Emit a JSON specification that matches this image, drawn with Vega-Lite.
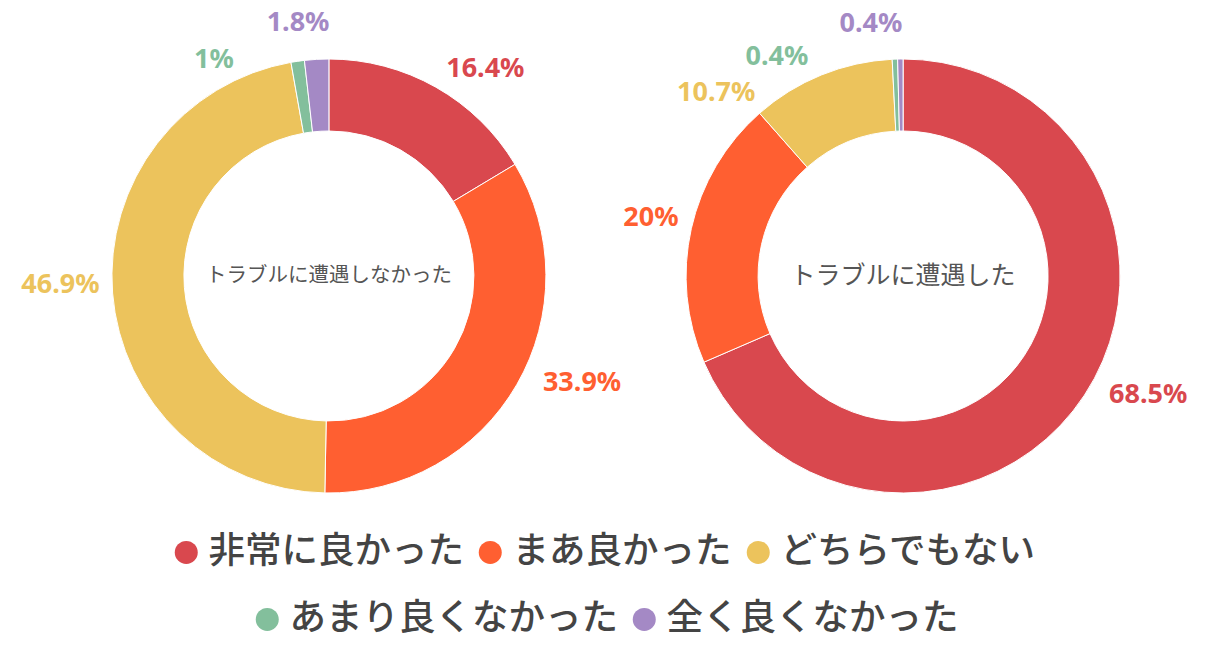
{
  "$schema": "https://vega.github.io/schema/vega-lite/v6.json",
  "width": 1200,
  "height": 552,
  "autosize": {"type": "none"},
  "padding": {"left": 16, "right": 0, "top": 0, "bottom": 103},
  "background": "white",
  "config": {
    "view": {"stroke": null},
    "font": "Noto Sans CJK JP",
    "text": {"font": "Noto Sans", "fontSize": 27, "fontWeight": "bold", "baseline": "middle"},
    "legend": {
      "orient": "none",
      "direction": "horizontal",
      "title": null,
      "symbolType": "circle",
      "symbolSize": 529,
      "symbolStrokeWidth": 0,
      "symbolOpacity": 1,
      "labelFontSize": 36.5,
      "labelFont": "Noto Sans CJK JP",
      "labelFontWeight": 500,
      "labelColor": "#444444",
      "labelOffset": 4,
      "columnPadding": 8,
      "labelLimit": 400
    }
  },
  "data": {
    "values": [
      {"chart": "left", "id": "L1", "cat": "非常に良かった", "order": 1, "value": 16.4, "label": "16.4%"},
      {"chart": "left", "id": "L2", "cat": "まあ良かった", "order": 2, "value": 33.9, "label": "33.9%"},
      {"chart": "left", "id": "L3", "cat": "どちらでもない", "order": 3, "value": 46.9, "label": "46.9%"},
      {"chart": "left", "id": "L4", "cat": "あまり良くなかった", "order": 4, "value": 1.0, "label": "1%"},
      {"chart": "left", "id": "L5", "cat": "全く良くなかった", "order": 5, "value": 1.8, "label": "1.8%"},
      {"chart": "right", "id": "R1", "cat": "非常に良かった", "order": 1, "value": 68.5, "label": "68.5%"},
      {"chart": "right", "id": "R2", "cat": "まあ良かった", "order": 2, "value": 20.0, "label": "20%"},
      {"chart": "right", "id": "R3", "cat": "どちらでもない", "order": 3, "value": 10.7, "label": "10.7%"},
      {"chart": "right", "id": "R4", "cat": "あまり良くなかった", "order": 4, "value": 0.4, "label": "0.4%"},
      {"chart": "right", "id": "R5", "cat": "全く良くなかった", "order": 5, "value": 0.4, "label": "0.4%"}
    ]
  },
  "resolve": {"scale": {"color": "independent"}, "legend": {"color": "independent"}},
  "layer": [
    {
      "transform": [
        {"stack": "value", "groupby": ["chart"], "sort": [{"field": "order", "order": "ascending"}], "as": ["v0", "v1"]},
        {"filter": "datum.order <= 3"}
      ],
      "mark": {"type": "arc", "radius": 217, "radius2": 145, "stroke": "white", "strokeWidth": 1},
      "encoding": {
        "x": {"field": "chart", "type": "nominal", "scale": {"type": "point", "domain": ["left", "right"], "padding": 0.545}, "axis": null},
        "theta": {"field": "v0", "type": "quantitative", "scale": {"domain": [0, 100]}},
        "theta2": {"field": "v1"},
        "color": {
          "field": "cat", "type": "nominal",
          "scale": {"domain": ["非常に良かった", "まあ良かった", "どちらでもない"], "range": ["#D9484E", "#FF5F31", "#ECC35C"]},
          "legend": {"legendX": 152, "legendY": 534}
        }
      }
    },
    {
      "transform": [
        {"stack": "value", "groupby": ["chart"], "sort": [{"field": "order", "order": "ascending"}], "as": ["v0", "v1"]},
        {"filter": "datum.order >= 4"}
      ],
      "mark": {"type": "arc", "radius": 217, "radius2": 145, "stroke": "white", "strokeWidth": 1},
      "encoding": {
        "x": {"field": "chart", "type": "nominal", "scale": {"type": "point", "domain": ["left", "right"], "padding": 0.545}, "axis": null},
        "theta": {"field": "v0", "type": "quantitative", "scale": {"domain": [0, 100]}},
        "theta2": {"field": "v1"},
        "color": {
          "field": "cat", "type": "nominal",
          "scale": {"domain": ["あまり良くなかった", "全く良くなかった"], "range": ["#83BF9C", "#A489C5"]},
          "legend": {"legendX": 233, "legendY": 601}
        }
      }
    },
    {
      "transform": [{"filter": "datum.chart === 'left'"}],
      "encoding": {
        "x": {"field": "chart", "type": "nominal", "scale": {"type": "point", "domain": ["left", "right"], "padding": 0.545}, "axis": null},
        "theta": {"field": "value", "type": "quantitative", "stack": true, "scale": {"domain": [0, 100]}},
        "order": {"field": "order", "type": "quantitative"},
        "color": {"field": "cat", "type": "nominal", "scale": {"domain": ["非常に良かった", "まあ良かった", "どちらでもない", "あまり良くなかった", "全く良くなかった"], "range": ["#D9484E", "#FF5F31", "#ECC35C", "#83BF9C", "#A489C5"]}, "legend": null}
      },
      "layer": [
        {
          "mark": {"type": "text", "radius": 238, "align": "left"},
          "encoding": {"text": {"condition": {"test": "datum.id === 'L1'", "field": "label"}, "value": ""}}
        },
        {
          "mark": {"type": "text", "radius": 238, "align": "left", "dx": 8, "dy": -12},
          "encoding": {"text": {"condition": {"test": "datum.id === 'L2'", "field": "label"}, "value": ""}}
        },
        {
          "mark": {"type": "text", "radius": 230, "align": "right", "dy": -9},
          "encoding": {"text": {"condition": {"test": "datum.id === 'L3'", "field": "label"}, "value": ""}}
        },
        {
          "mark": {"type": "text", "radius": 230, "align": "right", "dx": -62, "dy": 12},
          "encoding": {"text": {"condition": {"test": "datum.id === 'L4'", "field": "label"}, "value": ""}}
        },
        {
          "mark": {"type": "text", "radius": 245, "align": "center", "dx": -17, "dy": -8},
          "encoding": {"text": {"condition": {"test": "datum.id === 'L5'", "field": "label"}, "value": ""}}
        }
      ]
    },
    {
      "transform": [{"filter": "datum.chart === 'right'"}],
      "encoding": {
        "x": {"field": "chart", "type": "nominal", "scale": {"type": "point", "domain": ["left", "right"], "padding": 0.545}, "axis": null},
        "theta": {"field": "value", "type": "quantitative", "stack": true, "scale": {"domain": [0, 100]}},
        "order": {"field": "order", "type": "quantitative"},
        "color": {"field": "cat", "type": "nominal", "scale": {"domain": ["非常に良かった", "まあ良かった", "どちらでもない", "あまり良くなかった", "全く良くなかった"], "range": ["#D9484E", "#FF5F31", "#ECC35C", "#83BF9C", "#A489C5"]}, "legend": null}
      },
      "layer": [
        {
          "mark": {"type": "text", "radius": 238, "align": "left", "dx": 7, "dy": -12},
          "encoding": {"text": {"condition": {"test": "datum.id === 'R1'", "field": "label"}, "value": ""}}
        },
        {
          "mark": {"type": "text", "radius": 230, "align": "right", "dy": -8},
          "encoding": {"text": {"condition": {"test": "datum.id === 'R2'", "field": "label"}, "value": ""}}
        },
        {
          "mark": {"type": "text", "radius": 230, "align": "right", "dx": -61, "dy": 30},
          "encoding": {"text": {"condition": {"test": "datum.id === 'R3'", "field": "label"}, "value": ""}}
        },
        {
          "mark": {"type": "text", "radius": 230, "align": "right", "dx": -86, "dy": 11},
          "encoding": {"text": {"condition": {"test": "datum.id === 'R4'", "field": "label"}, "value": ""}}
        },
        {
          "mark": {"type": "text", "radius": 245, "align": "center", "dx": -29, "dy": -7},
          "encoding": {"text": {"condition": {"test": "datum.id === 'R5'", "field": "label"}, "value": ""}}
        }
      ]
    },
    {
      "data": {"values": [{"chart": "left", "title": "トラブルに遭遇しなかった"}]},
      "mark": {"type": "text", "align": "center", "baseline": "middle", "font": "Noto Sans CJK JP", "fontWeight": "normal", "fontSize": 20.5, "color": "#555555"},
      "encoding": {
        "x": {"field": "chart", "type": "nominal", "scale": {"type": "point", "domain": ["left", "right"], "padding": 0.545}, "axis": null},
        "text": {"field": "title"}
      }
    },
    {
      "data": {"values": [{"chart": "right", "title": "トラブルに遭遇した"}]},
      "mark": {"type": "text", "align": "center", "baseline": "middle", "font": "Noto Sans CJK JP", "fontWeight": "normal", "fontSize": 25, "color": "#555555"},
      "encoding": {
        "x": {"field": "chart", "type": "nominal", "scale": {"type": "point", "domain": ["left", "right"], "padding": 0.545}, "axis": null},
        "text": {"field": "title"}
      }
    }
  ]
}
